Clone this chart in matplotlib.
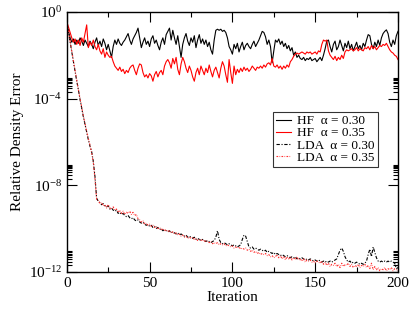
import matplotlib
matplotlib.use("Agg")
import matplotlib.pyplot as plt
import numpy as np
from matplotlib.ticker import FixedLocator, LogFormatterMathtext

plt.rcParams['font.family'] = ['Liberation Serif', 'DejaVu Serif']
plt.rcParams['mathtext.fontset'] = 'stix'

# log10 of relative density error, iterations 0..200
hf_030 = [
    -0.5, -0.9, -1.2, -1.4, -1.25, -1.5, -1.3, -1.45, -1.2, -1.35,
    -1.55, -1.3, -1.45, -1.6, -1.35, -1.5, -1.7, -1.4, -1.2, -1.55,
    -1.35, -1.6, -1.25, -1.45, -1.75, -1.5, -1.8, -2.1, -1.6, -1.3,
    -1.5, -1.25, -1.45, -1.55, -1.4, -1.3, -1.15, -1.0, -1.3, -1.5,
    -1.25, -1.1, -0.95, -0.75, -1.2, -1.65, -1.4, -1.2, -1.5, -1.35,
    -1.6, -1.25, -1.1, -1.45, -1.3, -1.55, -1.75, -1.4, -1.2, -1.5,
    -1.05, -0.9, -0.75, -1.3, -0.85, -1.2, -1.5, -1.1, -1.6, -2.1,
    -1.5, -1.2, -1.0, -1.35, -1.55, -1.2, -1.4, -1.1, -1.65, -1.3,
    -1.05, -1.45, -1.25, -1.5, -1.3, -1.6, -1.4, -1.75, -1.95, -1.3,
    -0.85, -0.8, -0.85, -0.8, -0.9, -0.85, -0.95, -1.2, -1.6, -1.75,
    -1.95, -1.5, -1.7, -1.45, -1.85, -1.6, -1.4, -1.75, -1.55, -1.45,
    -1.6, -1.7, -1.5, -1.35, -1.6, -1.45, -1.3, -1.1, -0.9, -0.95,
    -1.15, -1.5, -1.3, -1.6, -2.35, -1.8, -1.3, -1.4, -1.25, -1.5,
    -1.35, -1.6, -1.45, -1.7, -1.55, -1.8, -1.65, -2.0, -1.85, -2.1,
    -2.0, -2.15, -2.2, -2.1, -2.25, -2.15, -2.2, -2.1, -2.25, -2.2,
    -2.15, -2.3, -2.2, -2.1, -2.25, -2.0, -1.7, -1.35, -1.3, -1.6,
    -1.85, -1.5, -1.35, -1.75, -1.6, -1.3, -1.55, -1.8, -1.45, -1.65,
    -1.35, -1.7, -1.5, -1.8, -1.6, -1.4, -1.7, -1.55, -1.75, -1.45,
    -1.6, -1.3, -1.05, -1.1, -1.5, -1.7, -1.4, -1.6, -1.3, -1.55,
    -1.2, -1.0, -0.9, -0.83, -1.0, -1.4, -1.6, -1.3, -1.5, -1.1,
    -0.9,
]
hf_035 = [
    -0.45, -0.7, -0.95, -1.2, -1.4, -1.25, -1.5, -1.3, -1.55, -1.2,
    -1.4, -1.0, -0.6, -1.65, -1.4, -1.55, -1.3, -1.6, -1.75, -1.5,
    -1.8, -1.95, -1.7, -2.1, -1.85, -2.0, -2.1, -2.05, -2.3, -2.5,
    -2.6, -2.7, -2.55, -2.75, -2.65, -2.85, -2.7, -2.8, -2.6, -2.5,
    -2.45, -2.7, -2.9, -2.6, -2.4, -2.45, -2.8, -3.0, -2.9, -3.05,
    -2.85, -2.95, -3.2, -2.9, -2.75, -3.0, -2.8, -2.7, -2.9, -2.5,
    -2.3, -2.2, -2.35, -2.6, -2.15, -2.4, -2.1, -2.65, -2.9, -2.4,
    -2.1, -2.3, -2.6, -2.8, -2.5, -2.7, -3.0, -3.2, -2.8, -2.6,
    -2.9, -2.5, -2.7, -2.9, -2.6, -2.8, -2.45, -2.75, -3.0, -2.7,
    -2.55, -2.8, -3.05, -2.6, -2.3, -2.5, -2.9, -3.25, -2.2, -2.8,
    -3.3, -2.5, -2.9, -2.65, -2.8, -2.6, -2.75, -2.55, -2.7, -2.6,
    -2.75, -2.65, -2.5, -2.6, -2.7, -2.55, -2.6, -2.5, -2.6, -2.45,
    -2.55, -2.4, -2.35, -2.45, -2.15, -2.5, -2.55, -2.45, -2.6, -2.5,
    -2.65, -2.5, -2.6, -2.45, -2.55, -2.3, -2.2, -2.05, -1.95, -1.9,
    -1.95, -1.9, -1.85, -1.9, -1.95, -1.85, -1.9, -1.85, -1.95, -1.9,
    -1.85, -1.95, -1.8, -1.85, -1.5, -1.3, -1.35, -1.3, -1.8, -2.0,
    -2.1, -2.2, -2.05, -2.25, -2.1, -2.2, -2.0, -2.15, -1.85, -1.75,
    -1.8, -1.75, -1.7, -1.8, -1.75, -1.65, -1.8, -1.7, -1.75, -1.8,
    -1.65, -1.7, -1.6, -1.75, -1.55, -1.7, -1.6, -1.75, -1.65, -1.55,
    -1.6, -1.5, -1.55, -1.45, -1.6, -1.75, -1.85, -1.9, -2.0, -2.05,
    -2.2,
]
lda_030 = [
    -0.45, -0.95, -1.4, -1.85, -2.3, -2.75, -3.2, -3.6, -4.05, -4.45,
    -4.85, -5.2, -5.55, -5.9, -6.2, -6.45, -6.9, -7.6, -8.6, -8.75,
    -8.8, -8.9, -8.85, -8.95, -9.0, -8.95, -9.1, -9.05, -9.15, -9.2,
    -9.15, -9.3, -9.25, -9.35, -9.3, -9.4, -9.45, -9.4, -9.5, -9.55,
    -9.5, -9.6, -9.65, -9.6, -9.7, -9.75, -9.7, -9.8, -9.85, -9.8,
    -9.9, -9.85, -9.95, -9.9, -10.0, -9.95, -10.05, -10.0, -10.1, -10.05,
    -10.1, -10.15, -10.1, -10.2, -10.15, -10.2, -10.25, -10.2, -10.3, -10.25,
    -10.3, -10.35, -10.3, -10.4, -10.35, -10.4, -10.45, -10.4, -10.5, -10.45,
    -10.5, -10.55, -10.5, -10.55, -10.6, -10.55, -10.6, -10.65, -10.6, -10.55,
    -10.4, -10.1, -10.5, -10.65, -10.7, -10.65, -10.7, -10.75, -10.7, -10.75,
    -10.8, -10.75, -10.8, -10.85, -10.8, -10.75, -10.5, -10.3, -10.35, -10.6,
    -10.85, -10.9, -10.85, -10.95, -10.9, -10.95, -11.0, -10.95, -11.0, -11.05,
    -11.0, -11.1, -11.05, -11.1, -11.15, -11.1, -11.2, -11.15, -11.2, -11.25,
    -11.2, -11.25, -11.3, -11.25, -11.3, -11.35, -11.3, -11.35, -11.3, -11.4,
    -11.35, -11.4, -11.35, -11.4, -11.45, -11.4, -11.45, -11.4, -11.45, -11.5,
    -11.45, -11.5, -11.45, -11.5, -11.55, -11.5, -11.55, -11.5, -11.55, -11.5,
    -11.55, -11.5, -11.45, -11.4, -11.2, -11.0, -10.9, -11.05, -11.3, -11.45,
    -11.55, -11.5, -11.6, -11.55, -11.6, -11.55, -11.6, -11.65, -11.6, -11.65,
    -11.6, -11.5, -11.2, -10.95, -11.3, -10.85, -11.1, -11.35, -11.5, -11.55,
    -11.5, -11.55, -11.5, -11.55, -11.5, -11.55, -11.5, -11.55, -11.6, -11.85,
    -11.8,
]
lda_035 = [
    -0.4, -0.9, -1.35, -1.8, -2.25, -2.7, -3.15, -3.6, -4.0, -4.4,
    -4.8, -5.15, -5.5, -5.85, -6.15, -6.5, -6.95, -7.7, -8.65, -8.7,
    -8.85, -8.8, -8.95, -8.9, -9.05, -8.9, -9.05, -9.1, -9.0, -9.15,
    -9.1, -9.25, -9.15, -9.3, -9.2, -9.35, -9.25, -9.3, -9.2, -9.35,
    -9.25, -9.4, -9.35, -9.55, -9.6, -9.7, -9.65, -9.8, -9.75, -9.85,
    -9.8, -9.9, -9.85, -9.95, -9.9, -10.0, -9.95, -10.05, -10.0, -10.1,
    -10.05, -10.15, -10.1, -10.2, -10.15, -10.25, -10.2, -10.3, -10.25, -10.35,
    -10.3, -10.4, -10.35, -10.45, -10.4, -10.45, -10.4, -10.5, -10.45, -10.55,
    -10.5, -10.55, -10.5, -10.6, -10.55, -10.6, -10.65, -10.6, -10.7, -10.65,
    -10.7, -10.65, -10.75, -10.7, -10.75, -10.7, -10.8, -10.75, -10.8, -10.85,
    -10.8, -10.9, -10.85, -10.9, -10.85, -10.95, -10.9, -10.95, -10.9, -11.0,
    -10.95, -11.05, -11.0, -11.1, -11.05, -11.15, -11.1, -11.2, -11.15, -11.2,
    -11.15, -11.25, -11.2, -11.3, -11.25, -11.35, -11.3, -11.2, -11.35, -11.25,
    -11.4, -11.3, -11.45, -11.3, -11.4, -11.3, -11.45, -11.35, -11.4, -11.3,
    -11.45, -11.4, -11.5, -11.4, -11.55, -11.45, -11.5, -11.45, -11.55, -11.5,
    -11.6, -11.5, -11.55, -11.6, -11.5, -11.65, -11.55, -11.7, -11.6, -11.75,
    -11.65, -11.7, -11.6, -11.75, -11.65, -11.8, -11.6, -11.75, -11.65, -11.7,
    -11.6, -11.75, -11.65, -11.8, -11.7, -11.75, -11.65, -11.8, -11.7, -11.75,
    -11.65, -11.8, -11.7, -11.85, -11.6, -11.9, -11.75, -11.9, -11.8, -11.95,
    -11.85, -11.9, -11.8, -11.95, -11.85, -11.9, -11.8, -11.95, -11.85, -11.9,
    -11.95,
]
labels = ["HF  α = 0.30", "HF  α = 0.35",
          "LDA  α = 0.30", "LDA  α = 0.35"]

it = np.arange(len(hf_030))

fig = plt.figure(figsize=(4.15, 3.21), dpi=100)
ax = fig.add_axes([0.161, 0.153, 0.798, 0.81])

ax.plot(it, 10.0 ** np.array(hf_030), color="black", lw=0.8, label=labels[0])
ax.plot(it, 10.0 ** np.array(hf_035), color="red", lw=0.8, label=labels[1])
ax.plot(it, 10.0 ** np.array(lda_030), color="black", lw=0.8,
        ls=(0, (3, 1.5, 1, 1.5)), label=labels[2])
ax.plot(it, 10.0 ** np.array(lda_035), color="#ff3030", lw=0.8,
        ls=(0, (1.5, 1.2, 0.6, 1.2)), label=labels[3])

ax.set_yscale("log")
ax.set_xlim(0, 200)
ax.set_ylim(1e-12, 1e0)
ax.set_xticks([0, 50, 100, 150, 200])
ax.set_xticks([25, 75, 125, 175], minor=True)
ax.yaxis.set_major_locator(FixedLocator([1e-12, 1e-8, 1e-4, 1e0]))
ax.yaxis.set_major_formatter(LogFormatterMathtext())
minor = [m * k for m in [1e-12, 1e-8, 1e-4] for k in range(2, 10)]
ax.yaxis.set_minor_locator(FixedLocator(minor))
ax.yaxis.set_minor_formatter(plt.NullFormatter())

ax.tick_params(which="both", direction="in", top=True, right=True,
               labelsize=11, width=0.8)
ax.tick_params(which="major", length=7)
ax.tick_params(which="minor", length=3.5)
for s in ax.spines.values():
    s.set_linewidth(1.0)

ax.set_xlabel("Iteration", fontsize=11, labelpad=1)
ax.set_ylabel("Relative Density Error", fontsize=11, labelpad=3)

leg = ax.legend(loc="upper right", bbox_to_anchor=(0.94, 0.616),
                fontsize=9.5, frameon=True, fancybox=False,
                handlelength=1.15, handletextpad=0.45, labelspacing=0.0,
                borderpad=0.25, borderaxespad=0)
leg.get_frame().set_edgecolor("black")
leg.get_frame().set_linewidth(0.8)

fig.savefig("out.png", dpi=100)
